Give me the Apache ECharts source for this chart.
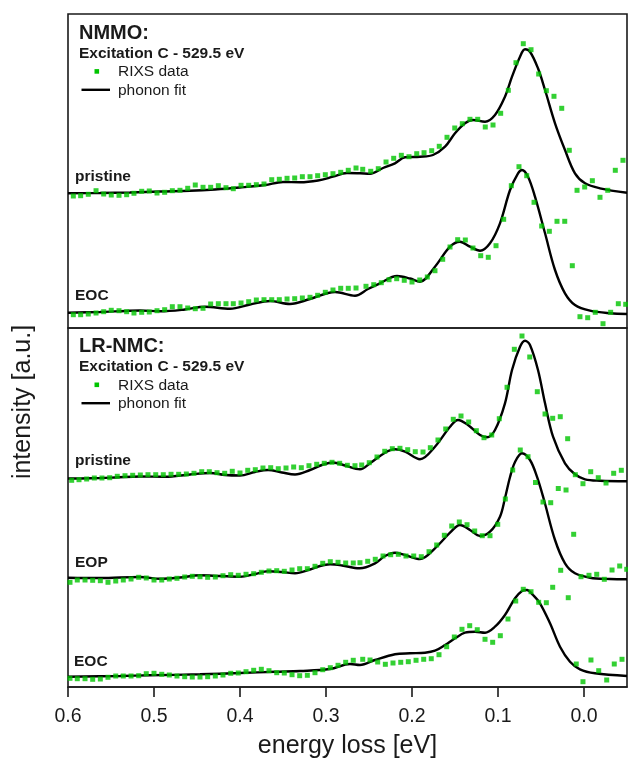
<!DOCTYPE html>
<html>
<head>
<meta charset="utf-8">
<script src="https://cdn.jsdelivr.net/npm/echarts@6.0.0/dist/echarts.min.js"></script>
<style>
html,body{margin:0;padding:0;background:#fff;}
#chart{width:628px;height:758px;}
</style>
</head>
<body>
<div id="chart"></div>
<script>
// ---------- DATA (energy loss [eV], intensity [a.u.]) ----------
const tickValues = [0.6, 0.5, 0.4, 0.3, 0.2, 0.1, 0.0];

// NMMO, pristine
const nmmoPristineData = [[0.5938,0],[0.5853,0.3],[0.5764,1.7],[0.5674,5.3],[0.5585,2],[0.5497,1],[0.5407,0.7],[0.5318,1.3],[0.5233,2.7],[0.5143,4.7],[0.5055,5],[0.4965,3],[0.4876,3.7],[0.4787,5.3],[0.4698,5.7],[0.4608,7.7],[0.4520,11],[0.4430,8.7],[0.4341,8.7],[0.4252,10.3],[0.4163,8.3],[0.4078,7.3],[0.3988,10.7],[0.3899,10.7],[0.3810,11.3],[0.3721,12],[0.3631,16.3],[0.3543,16.7],[0.3453,17.7],[0.3364,18],[0.3275,19.3],[0.3186,19.3],[0.3097,20.3],[0.3008,21.3],[0.2919,22.3],[0.2829,23.7],[0.2741,25.7],[0.2651,28],[0.2573,26.7],[0.2480,24.7],[0.2392,27.3],[0.2302,34],[0.2213,37.7],[0.2124,40.7],[0.2035,39.3],[0.1945,42.3],[0.1860,43.3],[0.1771,45.3],[0.1683,49.7],[0.1593,58.7],[0.1503,68],[0.1415,72.3],[0.1326,76.7],[0.1236,76.7],[0.1148,69],[0.1058,71],[0.0969,82.7],[0.0880,105.7],[0.0791,133.3],[0.0706,152.3],[0.0616,146.3],[0.0527,122],[0.0438,105.3],[0.0349,99.7],[0.0259,87.7],[0.0171,45.7],[0.0081,5.7],[-0.0008,9],[-0.0097,15.3],[-0.0186,-1.3],[-0.0276,5.7],[-0.0364,25.7],[-0.0453,35.7]];
const nmmoPristineFit = [[0.6,2.7],[0.5628,3],[0.5279,3.5],[0.493,4.5],[0.4581,5.2],[0.4291,6.5],[0.4,8.5],[0.3709,11],[0.35,14],[0.3302,13.7],[0.3093,15.5],[0.2919,19.3],[0.2756,23],[0.2605,22.7],[0.2488,22.3],[0.2337,28],[0.2198,32.7],[0.2081,38.7],[0.1907,39.3],[0.1756,41],[0.1616,49.3],[0.15,62.7],[0.1384,72.7],[0.1291,76],[0.1151,74.3],[0.1035,81],[0.0919,99.3],[0.0837,119.3],[0.0744,139.3],[0.0686,146.7],[0.0628,144.3],[0.0535,127.7],[0.0453,106],[0.0337,72.7],[0.0221,46],[0.0105,22.7],[-0.0012,12.7],[-0.0186,7.7],[-0.05,3.3]];

// NMMO, EOC
const nmmoEocData = [[0.5938,0.3],[0.5853,0.3],[0.5764,1],[0.5674,2],[0.5585,3.3],[0.5497,4.7],[0.5407,4.3],[0.5318,3.3],[0.5233,2],[0.5143,2.7],[0.5055,3],[0.4965,4.3],[0.4876,5.3],[0.4787,8.3],[0.4698,8.3],[0.4608,7],[0.4520,6.3],[0.4430,6.7],[0.4341,11],[0.4252,11.3],[0.4163,11.3],[0.4078,11.3],[0.3988,12],[0.3899,13.3],[0.3810,15],[0.3721,15.3],[0.3631,15.3],[0.3543,15.3],[0.3453,16],[0.3364,16.3],[0.3275,17],[0.3186,17.7],[0.3097,19.7],[0.3008,22.7],[0.2919,25],[0.2829,26.7],[0.2741,26.7],[0.2651,27],[0.2535,28.7],[0.2445,30.3],[0.2357,32.3],[0.2267,35.3],[0.2178,36.3],[0.2090,34.7],[0.2000,33],[0.1910,35],[0.1822,38],[0.1733,44.3],[0.1643,55.7],[0.1558,68],[0.1469,75.3],[0.1380,75],[0.1291,67],[0.1201,59.3],[0.1113,57.7],[0.1023,69.3],[0.0934,95.7],[0.0845,129.3],[0.0756,148.3],[0.0666,139.3],[0.0581,112.7],[0.0492,89],[0.0403,83.7],[0.0314,93.7],[0.0224,93.7],[0.0136,49.3],[0.0047,-1.7],[-0.0043,-2.7],[-0.0131,2.7],[-0.0221,-8.7],[-0.0310,2.7],[-0.0399,11.3],[-0.0485,10.7]];
const nmmoEocFit = [[0.6,2.3],[0.5628,3],[0.5337,4],[0.5163,4.5],[0.493,3.7],[0.464,5.5],[0.4407,8.3],[0.4116,6.3],[0.3884,10.5],[0.3651,14],[0.3419,11],[0.3186,16],[0.2895,23],[0.2663,19.3],[0.2512,26],[0.2372,31.7],[0.2174,39],[0.2023,36.5],[0.1907,33.3],[0.1733,48.3],[0.1558,68.3],[0.1442,73.3],[0.1326,68.3],[0.1209,64.3],[0.1093,71.7],[0.0977,91.7],[0.086,125],[0.0767,141.7],[0.0721,145],[0.0651,138.3],[0.057,118.3],[0.0453,81.7],[0.0337,45],[0.0221,21.7],[0.0105,10],[-0.007,4.3],[-0.0302,1.7],[-0.05,1]];

// LR-NMC, pristine
const lrPristineData = [[0.5957,0.7],[0.5872,1.3],[0.5783,2],[0.5694,3],[0.5605,3],[0.5515,3.3],[0.5427,4.7],[0.5337,5.3],[0.5248,5.7],[0.5159,6],[0.507,6.3],[0.498,6.3],[0.4892,6.3],[0.4802,6.7],[0.4713,6.7],[0.4624,7],[0.4535,7.7],[0.4445,9.3],[0.4357,9.3],[0.4267,8.3],[0.4178,7.7],[0.409,9.7],[0.4,8],[0.391,10.7],[0.3822,11.3],[0.3733,13],[0.3643,13.3],[0.3555,12.3],[0.3465,13],[0.3376,14],[0.3287,13.3],[0.3198,15.3],[0.3108,16.7],[0.302,17.7],[0.293,18.7],[0.2841,17.7],[0.2752,15.7],[0.2663,15.3],[0.2585,16],[0.2497,18.3],[0.2407,24],[0.2317,29.7],[0.2229,32.3],[0.214,32.7],[0.205,31.3],[0.1962,29.3],[0.1872,29],[0.1787,33.3],[0.1698,41],[0.1608,52],[0.152,61.7],[0.143,65],[0.1341,59],[0.1252,50.3],[0.1163,43.3],[0.1073,46],[0.0985,62.3],[0.0895,93.7],[0.081,131.7],[0.0721,145],[0.0631,124],[0.0543,89.3],[0.0453,67],[0.0364,62.7],[0.0276,64.3],[0.019,42.3],[0.0101,6.3],[0.0012,-2.7],[-0.0078,9.3],[-0.0166,3.3],[-0.0256,-2],[-0.0345,7.7],[-0.0434,10.7]];
const lrPristineFit = [[0.6,2.5],[0.5744,2.7],[0.5453,3.5],[0.5163,4.5],[0.4872,4.2],[0.4581,6.5],[0.4349,8],[0.4174,6],[0.4,5.5],[0.3826,9],[0.3674,11],[0.3512,8.5],[0.336,6.5],[0.3186,11],[0.3047,16],[0.2919,18.5],[0.2779,15.5],[0.2605,11.7],[0.2488,17.7],[0.2314,28.3],[0.2198,31.7],[0.2081,29.3],[0.1907,21.7],[0.1733,34.3],[0.1558,54.3],[0.1465,61],[0.1349,56],[0.1209,46],[0.1128,43.7],[0.1035,51],[0.0919,77.7],[0.0837,111],[0.0744,134.3],[0.0686,140.3],[0.0628,136],[0.0535,111],[0.0453,77.7],[0.036,44.3],[0.0221,17.7],[0.0105,6.7],[-0.0012,1.7],[-0.0186,0.3],[-0.05,-0.3]];

// LR-NMC, EOP
const lrEopData = [[0.5977,-0.3],[0.5892,2],[0.5802,2],[0.5713,1.7],[0.5624,1.3],[0.5535,-0.3],[0.5445,1],[0.5357,2],[0.5267,3],[0.5178,4.7],[0.509,4],[0.5,2],[0.491,2],[0.4822,3],[0.4733,3.7],[0.4643,5],[0.4555,5.7],[0.4465,5.3],[0.4376,4.7],[0.4287,5],[0.4198,6.3],[0.4108,7.3],[0.402,6.7],[0.393,7.7],[0.3841,8.3],[0.3752,9.7],[0.3663,11],[0.3573,11.3],[0.3485,10.7],[0.3395,12],[0.3306,13.3],[0.3217,13.3],[0.3128,15.7],[0.3038,18.7],[0.295,20.3],[0.286,19.7],[0.2771,19],[0.2683,19],[0.2605,19.3],[0.2515,20.7],[0.2427,22.7],[0.2337,26],[0.2248,27.3],[0.2159,27.7],[0.207,26],[0.198,26],[0.1892,25.3],[0.1802,30.3],[0.1713,37],[0.1624,46.7],[0.1538,56],[0.145,60],[0.136,57.3],[0.1271,51],[0.1183,46.3],[0.1093,46.3],[0.1003,57.7],[0.0915,83],[0.0829,112],[0.0741,132],[0.0651,125.3],[0.0564,99.5],[0.0477,80],[0.0387,79.3],[0.0299,93.5],[0.0209,92],[0.012,47.7],[0.0035,5.3],[-0.0058,6.7],[-0.0148,7.7],[-0.0236,2.7],[-0.0326,12],[-0.0415,16],[-0.0497,12.7]];
const lrEopFit = [[0.6,4.3],[0.5628,4],[0.5163,5],[0.493,3.3],[0.4698,4.5],[0.4465,6.7],[0.4233,6],[0.4,5.3],[0.3826,8],[0.3674,10.7],[0.3512,10],[0.336,8.7],[0.3186,12.5],[0.307,16],[0.2953,17.7],[0.2814,16.5],[0.2663,14],[0.2605,13.7],[0.243,18.7],[0.2314,26],[0.2198,29.3],[0.2081,27],[0.1907,23],[0.1733,33.7],[0.1558,49.3],[0.1442,57],[0.1326,52],[0.1209,46],[0.1093,50.3],[0.0977,65.3],[0.0919,83.7],[0.086,105],[0.0802,120],[0.0721,128.7],[0.0628,122],[0.0547,105.3],[0.0465,82],[0.0337,42],[0.0221,18.7],[0.0105,8.7],[-0.007,4.3],[-0.0302,3],[-0.05,2.7]];

// LR-NMC, EOC
const lrEocData = [[0.5977,1.7],[0.5892,1.3],[0.5802,1.3],[0.5713,0.7],[0.5624,1],[0.5535,2.7],[0.5445,4],[0.5357,4],[0.5267,4],[0.5178,4.3],[0.509,6.3],[0.5,6.7],[0.491,5.7],[0.4822,5],[0.4733,4],[0.4643,3.3],[0.4555,3],[0.4465,3],[0.4376,3.3],[0.4287,4],[0.4198,5],[0.4108,6.7],[0.402,7],[0.393,8.3],[0.3841,9.7],[0.3752,10.7],[0.3663,9.3],[0.3573,7.3],[0.3485,7],[0.3395,5.3],[0.3306,4.3],[0.3217,4.7],[0.3128,7.3],[0.3038,10.3],[0.295,12.3],[0.286,14.7],[0.2771,17.7],[0.2683,19.7],[0.2573,20.7],[0.2488,20],[0.2399,18],[0.231,15.7],[0.2221,17],[0.2131,17.7],[0.2043,18.3],[0.1953,19.7],[0.1864,20.7],[0.1776,21.3],[0.1686,25.3],[0.1597,33.3],[0.1508,43],[0.1419,50.7],[0.1329,54.3],[0.1241,50.3],[0.1151,40.7],[0.1062,37.7],[0.0973,44.3],[0.0884,61],[0.0794,79],[0.0706,90.7],[0.0616,88.3],[0.0527,77.7],[0.0438,77.3],[0.0364,92.7],[0.0271,109.7],[0.0183,82.3],[0.009,16],[0.0012,-1.7],[-0.0081,20],[-0.0171,9.3],[-0.0264,0],[-0.0352,16],[-0.0442,20.7]];
const lrEocFit = [[0.6,3.3],[0.5395,4],[0.5047,4.7],[0.4465,5.7],[0.4,7],[0.3593,8.3],[0.3302,9],[0.2953,11],[0.2721,16],[0.2605,15],[0.243,20],[0.2198,25.7],[0.2023,26.7],[0.1849,27.3],[0.1733,29.3],[0.1616,35],[0.15,41.7],[0.1384,47.3],[0.1267,48.3],[0.1151,47.3],[0.1035,53.3],[0.0919,65],[0.0802,81.7],[0.0721,89],[0.0663,90],[0.0593,85],[0.0512,76.7],[0.0395,56.7],[0.0279,33.3],[0.0163,18.3],[0.0047,10.7],[-0.0128,6.7],[-0.05,4]];

// vertical stacking offsets of the spectra (a.u.)
const offsetTop = { pristine: 132, eoc: 13 };
const offsetBottom = { pristine: 206, eop: 105, eoc: 7 };

// ---------- CHART ----------
const FONT = '"Liberation Sans", Arial, sans-serif';
const GREEN = '#00c400';
const INK = '#1a1a1a';

function shift(arr, off) { return arr.map(p => [p[0], p[1] + off]); }

function dataSeries(arr, off, gi) {
  return { type: 'scatter', xAxisIndex: gi, yAxisIndex: gi, data: shift(arr, off),
    symbol: 'rect', symbolSize: 5, itemStyle: { color: GREEN }, z: 3, silent: true };
}
function fitSeries(arr, off, gi) {
  return { type: 'line', xAxisIndex: gi, yAxisIndex: gi, data: shift(arr, off),
    showSymbol: false, smooth: 0.35, lineStyle: { color: '#000', width: 2.4 }, z: 2, silent: true };
}

function txt(x, y, text, font) {
  return { type: 'text', x: x, y: y, silent: true,
    style: { text: text, font: font, fill: INK, align: 'left', verticalAlign: 'middle',
             textAlign: 'left', textVerticalAlign: 'middle' } };
}
function legendBlock(y0) {
  return [
    { type: 'rect', silent: true, shape: { x: 94.5, y: y0 + 15.3, width: 4.6, height: 4.6 }, style: { fill: GREEN } },
    txt(118, y0 + 18.3, 'RIXS data', '15.5px ' + FONT),
    { type: 'line', silent: true, shape: { x1: 81.5, y1: y0 + 36, x2: 110, y2: y0 + 36 }, style: { stroke: '#000', lineWidth: 2.4 } },
    txt(118, y0 + 36.6, 'phonon fit', '15.5px ' + FONT)
  ];
}

const option = {
  animation: false,
  backgroundColor: '#fff',
  grid: [
    { left: 68, top: 14, width: 559, height: 314, show: true, borderColor: INK, borderWidth: 1.6,
      backgroundColor: 'transparent', outerBoundsMode: 'none', containLabel: false },
    { left: 68, top: 328, width: 559, height: 359, show: true, borderColor: INK, borderWidth: 1.6,
      backgroundColor: 'transparent', outerBoundsMode: 'none', containLabel: false }
  ],
  xAxis: [
    { type: 'value', gridIndex: 0, min: -0.05, max: 0.6, inverse: true, show: false },
    { type: 'value', gridIndex: 1, min: -0.05, max: 0.6, inverse: true,
      name: 'energy loss [eV]', nameLocation: 'middle', nameGap: 47,
      nameTextStyle: { fontFamily: FONT, fontSize: 25, color: INK },
      axisLine: { show: true, lineStyle: { color: INK, width: 1.6 } },
      axisTick: { show: true, inside: false, length: 10, customValues: tickValues, lineStyle: { color: INK, width: 1.6 } },
      axisLabel: { show: true, customValues: tickValues, margin: 20, fontFamily: FONT, fontSize: 19.5, color: INK,
                   formatter: v => Number(v).toFixed(1) },
      splitLine: { show: false } }
  ],
  yAxis: [
    { type: 'value', gridIndex: 0, min: 0, max: 314, show: false },
    { type: 'value', gridIndex: 1, min: 0, max: 359, show: false }
  ],
  series: [
    fitSeries(nmmoPristineFit, offsetTop.pristine, 0),
    dataSeries(nmmoPristineData, offsetTop.pristine, 0),
    fitSeries(nmmoEocFit, offsetTop.eoc, 0),
    dataSeries(nmmoEocData, offsetTop.eoc, 0),
    fitSeries(lrPristineFit, offsetBottom.pristine, 1),
    dataSeries(lrPristineData, offsetBottom.pristine, 1),
    fitSeries(lrEopFit, offsetBottom.eop, 1),
    dataSeries(lrEopData, offsetBottom.eop, 1),
    fitSeries(lrEocFit, offsetBottom.eoc, 1),
    dataSeries(lrEocData, offsetBottom.eoc, 1)
  ],
  graphic: [
    txt(79, 33, 'NMMO:', 'bold 20px ' + FONT),
    txt(79, 53.8, 'Excitation C - 529.5 eV', 'bold 15.5px ' + FONT),
    ...legendBlock(53.8),
    txt(75, 177, 'pristine', 'bold 15.5px ' + FONT),
    txt(75, 296, 'EOC', 'bold 15.5px ' + FONT),
    txt(79, 346.7, 'LR-NMC:', 'bold 20px ' + FONT),
    txt(79, 367.2, 'Excitation C - 529.5 eV', 'bold 15.5px ' + FONT),
    ...legendBlock(367.2),
    txt(75, 461, 'pristine', 'bold 15.5px ' + FONT),
    txt(75, 562.5, 'EOP', 'bold 15.5px ' + FONT),
    txt(74, 661.5, 'EOC', 'bold 15.5px ' + FONT),
    { type: 'text', x: 23, y: 402, rotation: Math.PI / 2, silent: true,
      style: { text: 'intensity [a.u.]', font: '25px ' + FONT, fill: INK,
               align: 'center', verticalAlign: 'middle', textAlign: 'center', textVerticalAlign: 'middle' } }
  ]
};

const chart = echarts.init(document.getElementById('chart'), null, { renderer: 'canvas' });
chart.setOption(option);
</script>
</body>
</html>
